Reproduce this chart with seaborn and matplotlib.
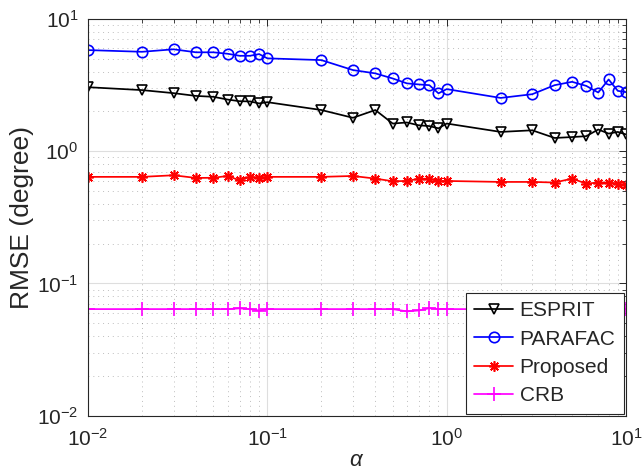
import numpy as np
import pandas as pd
import matplotlib
matplotlib.use("Agg")
import matplotlib.pyplot as plt
import seaborn as sns

# sweep values of alpha
alpha = [0.01, 0.02, 0.03, 0.04, 0.05, 0.06, 0.07, 0.08, 0.09, 0.1,
         0.2, 0.3, 0.4, 0.5, 0.6, 0.7, 0.8, 0.9, 1.0,
         2, 3, 4, 5, 6, 7, 8, 9, 10]

rmse_esprit = [3.05, 2.9, 2.75, 2.62, 2.58, 2.46, 2.39, 2.38, 2.3, 2.35,
               2.05, 1.79, 2.05, 1.62, 1.65, 1.57, 1.55, 1.49, 1.62,
               1.40, 1.44, 1.26, 1.28, 1.30, 1.46, 1.36, 1.40, 1.34]

rmse_parafac = [5.82, 5.65, 5.9, 5.6, 5.6, 5.46, 5.27, 5.27, 5.43, 5.04,
                4.89, 4.11, 3.88, 3.55, 3.26, 3.20, 3.16, 2.74, 2.95,
                2.53, 2.70, 3.16, 3.35, 3.12, 2.78, 3.49, 2.86, 2.80]

rmse_proposed = [0.64, 0.64, 0.658, 0.628, 0.63, 0.65, 0.603, 0.64, 0.63, 0.64,
                 0.64, 0.65, 0.621, 0.593, 0.596, 0.62, 0.62, 0.593, 0.596,
                 0.586, 0.586, 0.58, 0.621, 0.569, 0.58, 0.58, 0.569, 0.553]

crb = [0.064, 0.064, 0.064, 0.064, 0.064, 0.064, 0.0648, 0.064, 0.0624, 0.064,
       0.064, 0.064, 0.064, 0.064, 0.0615, 0.0625, 0.065, 0.064, 0.064,
       0.064, 0.064, 0.064, 0.064, 0.064, 0.064, 0.064, 0.064, 0.064]

series_names = ["ESPRIT", "PARAFAC", "Proposed", "CRB"]
series_values = [rmse_esprit, rmse_parafac, rmse_proposed, crb]

sns.set_theme(style="white")
plt.rcParams["font.family"] = ["Liberation Sans", "DejaVu Sans"]
plt.rcParams["mathtext.fontset"] = "custom"
plt.rcParams["mathtext.rm"] = "Liberation Sans"
plt.rcParams["mathtext.it"] = "Liberation Sans:italic"
plt.rcParams["mathtext.default"] = "rm"

fig = plt.figure(figsize=(6.43, 4.74), dpi=100)
ax = fig.add_axes([0.1369, 0.123, 0.8367, 0.8369])

styles = {
    "ESPRIT":   dict(color="black", marker="v", markersize=7.5,
                     markerfacecolor="none", markeredgecolor="black", markeredgewidth=1.2),
    "PARAFAC":  dict(color="#0000ff", marker="o", markersize=7.5,
                     markerfacecolor="none", markeredgecolor="#0000ff", markeredgewidth=1.2),
    "Proposed": dict(color="#ff0000", marker=(8, 2, 0), markersize=7.5,
                     markeredgecolor="#ff0000", markeredgewidth=1.2),
    "CRB":      dict(color="#ff00ff", marker="+", markersize=10,
                     markeredgecolor="#ff00ff", markeredgewidth=1.2),
}

for name, vals in zip(series_names, series_values):
    df = pd.DataFrame({"alpha": alpha, "rmse": vals})
    sns.lineplot(data=df, x="alpha", y="rmse", ax=ax, label=name,
                 linewidth=1.25, estimator=None, sort=False, **styles[name])

ax.set_xscale("log")
ax.set_yscale("log")
ax.set_xlim(0.01, 10)
ax.set_ylim(0.01, 10)

ax.set_xticks([0.01, 0.1, 1, 10])
ax.set_xticklabels([r"$10^{-2}$", r"$10^{-1}$", r"$10^{0}$", r"$10^{1}$"])
ax.set_yticks([0.01, 0.1, 1, 10])
ax.set_yticklabels([r"$10^{-2}$", r"$10^{-1}$", r"$10^{0}$", r"$10^{1}$"])

ax.grid(True, which="major", color="#262626", alpha=0.15, linewidth=0.8, linestyle="-")
ax.grid(True, which="minor", color="#262626", alpha=0.3, linewidth=0.7, linestyle=(0, (1, 4)))

ax.tick_params(axis="both", which="both", direction="in", top=True, right=True,
               colors="#262626", labelcolor="#262626")
ax.tick_params(axis="both", which="major", length=5, width=0.7, labelsize=15)
ax.tick_params(axis="x", which="major", pad=9)
ax.tick_params(axis="y", which="major", pad=7)
ax.tick_params(axis="both", which="minor", length=3, width=0.6)
ax.minorticks_on()

for sp in ax.spines.values():
    sp.set_color("#262626")
    sp.set_linewidth(0.8)

ax.set_xlabel(r"$\mathit{\alpha}$", fontsize=16, color="#262626", labelpad=0)
ax.set_ylabel("RMSE (degree)", fontsize=19, color="#262626", labelpad=2)

leg = ax.legend(loc="lower right", fontsize=15, frameon=True, fancybox=False,
                edgecolor="#262626", framealpha=1, handlelength=1.9,
                handletextpad=0.3, labelspacing=0.45, borderpad=0.4,
                borderaxespad=0.1)
leg.get_frame().set_linewidth(0.8)

fig.savefig("out.png", dpi=100)
